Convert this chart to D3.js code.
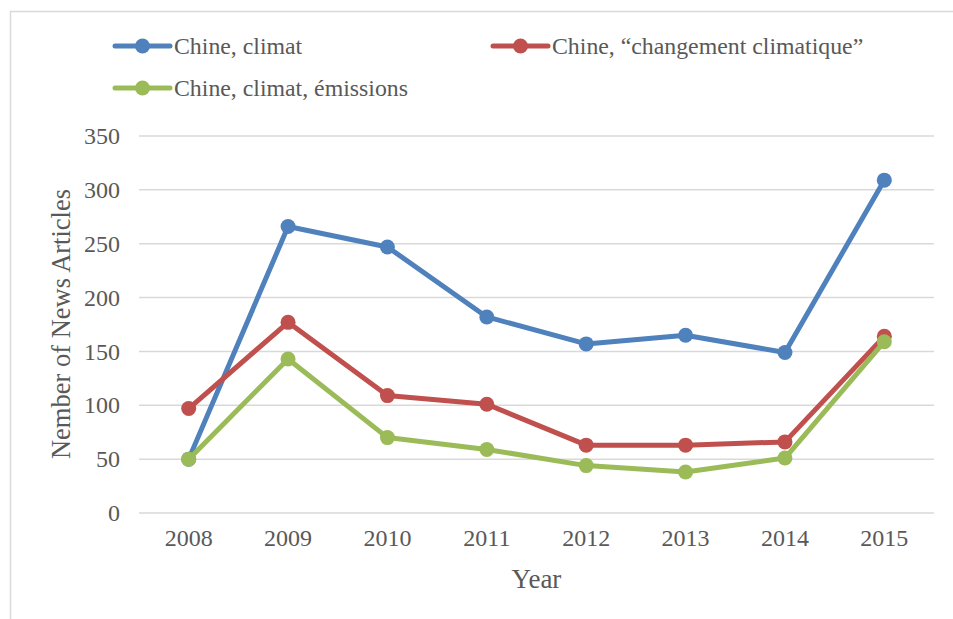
<!DOCTYPE html>
<html>
<head>
<meta charset="utf-8">
<script src="https://cdn.jsdelivr.net/npm/d3@7"></script>
<style>
  body { margin: 0; background: #fff; }
  svg { display: block; font-family: "Liberation Serif", "Times New Roman", serif; }
</style>
</head>
<body>
<script>
// Data
const years = ["2008", "2009", "2010", "2011", "2012", "2013", "2014", "2015"];
const climat = [50, 266, 247, 182, 157, 165, 149, 309];
const changement = [97, 177, 109, 101, 63, 63, 66, 164];
const emissions = [50, 143, 70, 59, 44, 38, 51, 159];
const yTicks = [0, 50, 100, 150, 200, 250, 300, 350];

const series = [
  { name: "Chine, climat", values: climat, color: "#4f81bd" },
  { name: "Chine, \u201cchangement climatique\u201d", values: changement, color: "#c0504d" },
  { name: "Chine, climat, \u00e9missions", values: emissions, color: "#9bbb59" }
];

const width = 953, height = 619;
const margin = { top: 136, right: 19, bottom: 106, left: 139 };

const svg = d3.select("body").append("svg")
  .attr("width", width)
  .attr("height", height);

// chart border
svg.append("rect")
  .attr("x", 10.5).attr("y", 11.5)
  .attr("width", width + 20).attr("height", height + 20)
  .attr("fill", "none")
  .attr("stroke", "#d9d9d9")
  .attr("stroke-width", 1.5);

const x = d3.scaleBand()
  .domain(years)
  .range([margin.left, width - margin.right]);

const y = d3.scaleLinear()
  .domain([0, 350])
  .range([height - margin.bottom, margin.top]);

// gridlines
svg.append("g")
  .selectAll("line")
  .data(yTicks)
  .join("line")
  .attr("x1", margin.left)
  .attr("x2", width - margin.right)
  .attr("y1", d => y(d))
  .attr("y2", d => y(d))
  .attr("stroke", "#d9d9d9")
  .attr("stroke-width", 1.5);

// y axis labels
const yAxis = svg.append("g")
  .attr("transform", `translate(${margin.left - 19},0)`)
  .call(d3.axisLeft(y).tickValues(yTicks).tickSize(0).tickPadding(0));
yAxis.select(".domain").remove();
yAxis.selectAll("text")
  .attr("font-family", "Liberation Serif")
  .attr("font-size", 24)
  .attr("fill", "#595959");

// x axis labels
const xAxis = svg.append("g")
  .attr("transform", `translate(0,${height - margin.bottom + 16})`)
  .call(d3.axisBottom(x).tickSize(0).tickPadding(0));
xAxis.select(".domain").remove();
xAxis.selectAll("text")
  .attr("font-family", "Liberation Serif")
  .attr("font-size", 24)
  .attr("fill", "#595959");

// axis titles
svg.append("text")
  .attr("x", (margin.left + width - margin.right) / 2)
  .attr("y", 588)
  .attr("text-anchor", "middle")
  .attr("font-size", 27)
  .attr("fill", "#595959")
  .text("Year");

svg.append("text")
  .attr("transform", "translate(70,324) rotate(-90)")
  .attr("text-anchor", "middle")
  .attr("font-size", 26.5)
  .attr("fill", "#595959")
  .text("Nember of News Articles");

// lines and markers
const line = d3.line()
  .x((d, i) => x(years[i]) + x.bandwidth() / 2)
  .y(d => y(d));

series.forEach(s => {
  const g = svg.append("g");
  g.append("path")
    .datum(s.values)
    .attr("d", line)
    .attr("fill", "none")
    .attr("stroke", s.color)
    .attr("stroke-width", 5)
    .attr("stroke-linejoin", "round");
  g.selectAll("circle")
    .data(s.values)
    .join("circle")
    .attr("cx", (d, i) => x(years[i]) + x.bandwidth() / 2)
    .attr("cy", d => y(d))
    .attr("r", 7.5)
    .attr("fill", s.color);
});

// legend
const legendPos = [[115, 46], [493, 46], [115, 88]];
series.forEach((s, i) => {
  const [lx, ly] = legendPos[i];
  const g = svg.append("g").attr("transform", `translate(${lx},${ly})`);
  g.append("line")
    .attr("x1", 0).attr("x2", 55)
    .attr("y1", 0).attr("y2", 0)
    .attr("stroke", s.color)
    .attr("stroke-width", 5)
    .attr("stroke-linecap", "round");
  g.append("circle")
    .attr("cx", 27.5).attr("cy", 0).attr("r", 7.5)
    .attr("fill", s.color);
  g.append("text")
    .attr("x", 59).attr("y", 0)
    .attr("dy", "0.35em")
    .attr("font-size", 23.8)
    .attr("fill", "#595959")
    .text(s.name);
});
</script>
</body>
</html>
